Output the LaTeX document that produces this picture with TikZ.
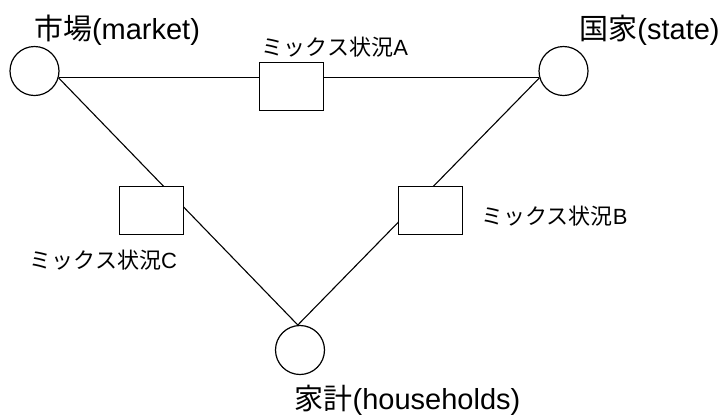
\documentclass[tikz,border=0pt]{standalone}
\usepackage{fontspec}
\setmainfont{Liberation Sans}
\newfontfamily\cjk{Noto Sans CJK JP}
\usetikzlibrary{backgrounds}
\begin{document}
\begin{tikzpicture}[x=1pt,y=-1pt,
  actor/.style={draw,circle,line width=1.2pt,minimum size=49pt,inner sep=0pt},
  mixbox/.style={draw,fill=white,line width=1.2pt,minimum width=64pt,minimum height=48pt,inner sep=0pt},
  conn/.style={line width=1.1pt},
  biglabel/.style={anchor=base,inner sep=0pt,font=\fontsize{29}{34}\selectfont},
  smalllabel/.style={anchor=base,inner sep=0pt,font=\fontsize{22}{26}\selectfont}]
\useasboundingbox (0,0) rectangle (726,416);
\node[actor] (market) at (34.5,71) {};
\node[actor] (state) at (563.5,71) {};
\node[actor] (house) at (300,350) {};
\node[mixbox] (boxA) at (291.5,86.5) {};
\node[mixbox] (boxB) at (430.5,210.5) {};
\node[mixbox] (boxC) at (151.5,210.5) {};
\begin{scope}[on background layer]
\draw[conn] (market.-16) -- (state.196);
\draw[conn] (market.-16) -- (house.95);
\draw[conn] (state.196) -- (house.95);
\end{scope}
\node[biglabel] (lm) at (117,39) {{\cjk 市場}(market)};
\node[biglabel] (ls) at (649.5,39) {{\cjk 国家}(state)};
\node[biglabel] (lh) at (407.5,409) {{\cjk 家計}(households)};
\node[smalllabel] (la) at (335,55) {{\cjk ミックス状況}A};
\node[smalllabel] (lb) at (554.5,224) {{\cjk ミックス状況}B};
\node[smalllabel] (lc) at (103.5,268) {{\cjk ミックス状況}C};
\end{tikzpicture}
\end{document}
